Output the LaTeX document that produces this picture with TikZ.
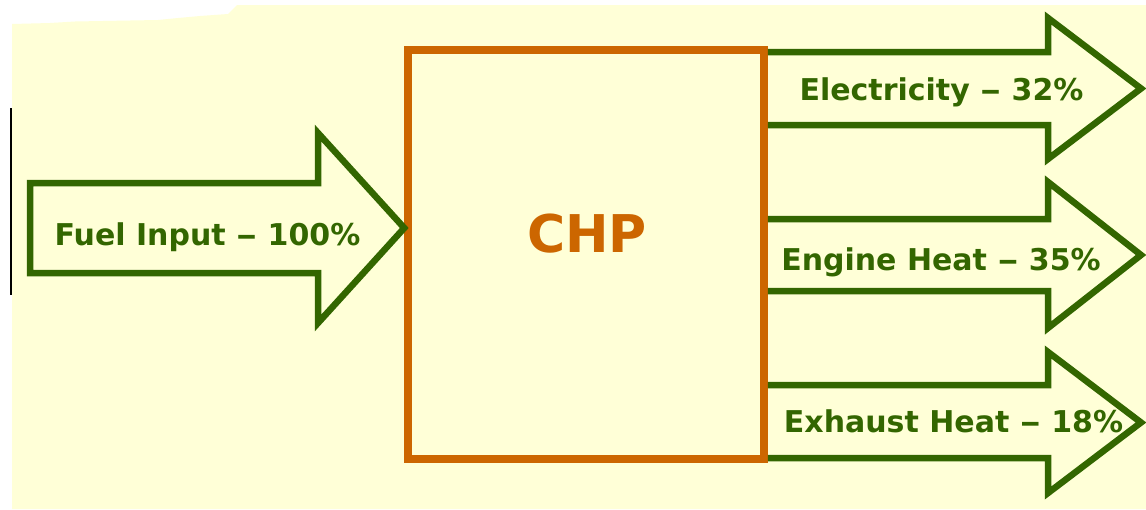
\documentclass[tikz,border=0pt]{standalone}
\usepackage{fontspec}
\setmainfont{DejaVu Sans}
\usepackage{graphicx}
\definecolor{bgyellow}{RGB}{255,255,215}
\definecolor{flowgreen}{RGB}{51,102,0}
\definecolor{chporange}{RGB}{204,102,0}
\newcommand{\wdash}{\scalebox{1.4}[1]{–}}
\begin{document}
\begin{tikzpicture}[x=1pt,y=-1pt,
  flow/.style={draw=flowgreen,line width=6.5pt,line join=miter},
  flowtext/.style={text=flowgreen,font=\fontsize{30}{36}\selectfont\bfseries,anchor=base,inner sep=0pt},
  chpbox/.style={draw=chporange,line width=7.5pt,minimum width=356pt,minimum height=409pt,inner sep=0pt},
  chptext/.style={text=chporange,font=\fontsize{52}{60}\selectfont\bfseries,anchor=base,inner sep=0pt}]
\useasboundingbox (0,0) rectangle (1146,509);
\fill[white] (0,0) rectangle (1146,509);
% background
\fill[bgyellow] (12,509) -- (12,24) -- (50,23) -- (75,21.5) -- (158,20) -- (178,18) -- (200,16) -- (228,14) -- (237,5) -- (1146,5) -- (1146,509) -- cycle;
% black mark at left
\draw[black,line width=2pt] (11,108) -- (11,295);
% CHP box
\node[chpbox] (chp) at (586,254.5) {};
\node[chptext] (chplabel) at (587,252) {CHP};
% input arrow
\coordinate (fuelTip) at (chp.west |- 0,228);
\draw[flow] (318,183) -- (30,183) -- (30,273) -- (318,273) -- (318,323) -- (fuelTip) -- (318,133) -- cycle;
\node[flowtext] (fuel) at (207.5,245) {Fuel Input \wdash{} 100\%};
% output arrows
\draw[flow] (chp.east |- 0,52) -- (1048,52) -- (1048,18) -- (1141,88.5) -- (1048,159) -- (1048,125) -- (chp.east |- 0,125);
\node[flowtext] (elec) at (941.5,100) {Electricity \wdash{} 32\%};
\draw[flow] (chp.east |- 0,219) -- (1048,219) -- (1048,182) -- (1141,255) -- (1048,328) -- (1048,291) -- (chp.east |- 0,291);
\node[flowtext] (engine) at (941,270) {Engine Heat \wdash{} 35\%};
\draw[flow] (chp.east |- 0,385) -- (1048,385) -- (1048,352) -- (1141,422.5) -- (1048,493) -- (1048,458) -- (chp.east |- 0,458);
\node[flowtext] (exhaust) at (953.5,432) {Exhaust Heat \wdash{} 18\%};
\end{tikzpicture}
\end{document}
